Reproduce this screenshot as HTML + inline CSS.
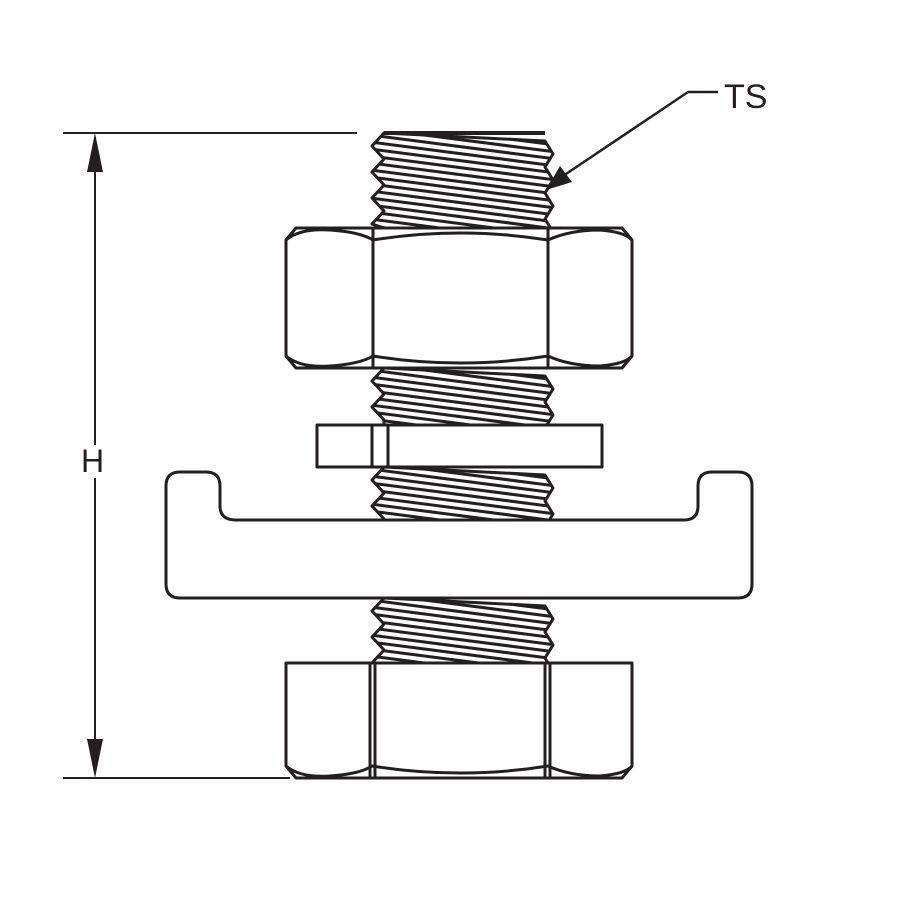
<!DOCTYPE html>
<html><head><style>body{margin:0;background:#fff}svg{display:block}</style></head><body>
<svg id="s" width="900" height="900" viewBox="0 0 900 900" xmlns="http://www.w3.org/2000/svg" fill="none" stroke="#231f20" stroke-width="3" stroke-linejoin="round">
<defs id="d"></defs>
<g id="th"></g>
<!-- top nut -->
<path d="M296,228 L622,228 L632,240 L632,356 L622,368 L296,368 L286,356 L286,240 Z" fill="#fff"/>
<path d="M373,228 L373,368 M548,228 L548,368"/>
<path d="M286,240 Q300,228 330,230 Q360,232 373,240 Q460,226 548,240 Q570,230 600,230 Q625,232 632,240"/>
<path d="M286,356 Q300,368 330,366 Q360,364 373,356 Q460,370 548,356 Q570,366 600,366 Q625,364 632,356"/>
<!-- washer -->
<rect x="317" y="425" width="285" height="42" fill="#fff"/>
<path d="M372,425 V467 M388,425 V467"/>
<!-- channel -->
<path d="M180,472 L206,472 Q220,472 220,486 L220,506 Q220,520 236,520 L684,520 Q698,520 698,506 L698,486 Q698,472 712,472 L738,472 Q752,472 752,486 L752,584 Q752,598 738,598 L180,598 Q166,598 166,584 L166,486 Q166,472 180,472 Z" fill="#fff"/>
<!-- bottom nut -->
<path d="M286,663 L632,663 L632,766 L622,778 L296,778 L286,766 Z" fill="#fff"/>
<path d="M370,663 V778 M375,663 V778 M545,663 V778 M550,663 V778"/>
<path d="M286,766 Q300,778 330,776 Q360,774 372,766 Q460,780 548,766 Q570,776 600,776 Q625,774 632,766"/>
<!-- dimensions -->
<path d="M63,133 H357 M63,778 H290 M95,150 V445 M95,478 V762" stroke-width="2"/>
<path d="M95,133 L87,172 L103,172 Z M95,778 L87,739 L103,739 Z" fill="#231f20" stroke="none"/>
<text x="81" y="472" font-family="Liberation Sans Narrow, Liberation Sans, sans-serif" font-size="32" fill="#231f20" stroke="none">H</text>
<!-- TS leader -->
<path d="M560,178 L688,92 H718" stroke-width="2.5"/>
<path d="M546,190 L560,166 L572,182 Z" fill="#231f20" stroke="none"/>
<text x="724" y="108" font-family="Liberation Sans Narrow, Liberation Sans, sans-serif" font-size="34" fill="#231f20" stroke="none">TS</text>
</svg>
<script>
var ns="http://www.w3.org/2000/svg",th=document.getElementById('th'),defs=document.getElementById('d');
function thread(y0,y1,id){
 var p=26,l=[],r=[];
 for(var y=y0,i=0;y<=y1;y+=p/2,i++){var o=i%2==0?384:372;l.push([o,y]);r.push([i%2==0?545:553,y+8]);}
 l.push([384,y1]);r.push([545,y1]);
 var d="M"+l.map(a=>a.join(",")).join(" L")+" L"+r.reverse().map(a=>a.join(",")).join(" L")+" Z";
 var cp=document.createElementNS(ns,'clipPath');cp.id=id;var pp=document.createElementNS(ns,'path');pp.setAttribute('d',d);cp.appendChild(pp);defs.appendChild(cp);
 var g=document.createElementNS(ns,'g');g.setAttribute('clip-path','url(#'+id+')');
 var s="";for(var y=y0-40;y<y1+10;y+=7){s+="M370,"+y+" L556,"+(y+24)+" ";}
 var ln=document.createElementNS(ns,'path');ln.setAttribute('d',s);ln.setAttribute('stroke-width','3');g.appendChild(ln);th.appendChild(g);
 var o=document.createElementNS(ns,'path');o.setAttribute('d',d);th.appendChild(o);
}
thread(133,228,'a');thread(368,425,'b');thread(467,520,'c');thread(598,663,'e');
var t=document.createElementNS(ns,'path');t.setAttribute('d','M384,133 H545');t.setAttribute('stroke-width','4');th.appendChild(t);
</script>
</body></html>
